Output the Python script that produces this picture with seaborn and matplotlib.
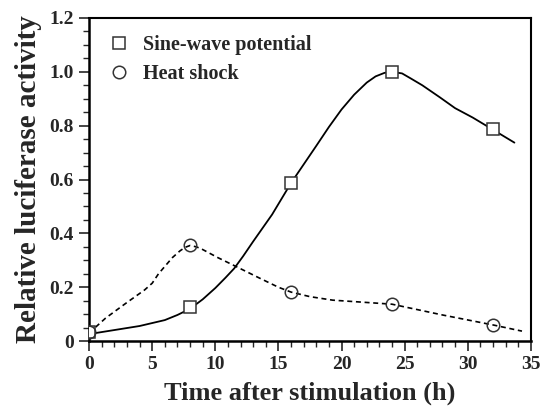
import matplotlib
matplotlib.use("Agg")
import matplotlib.pyplot as plt
import seaborn as sns
from matplotlib.ticker import MultipleLocator, FixedLocator, FixedFormatter

# measured data points
time_pts = [0, 8, 16, 24, 32]
sine_vals = [0.035, 0.125, 0.587, 1.0, 0.787]
heat_vals = [0.035, 0.355, 0.182, 0.137, 0.06]

# fitted curves
sine_curve_t = [0, 2, 4, 6, 7, 8, 9, 10, 10.8, 11.5, 12.2, 13, 14.5, 16, 18, 19, 20,
                21, 22, 22.7, 23.4, 24, 24.8, 25.5, 26.4, 27.8, 29, 30.4, 32, 33.7]
sine_curve_v = [0.026, 0.041, 0.056, 0.078, 0.097, 0.12, 0.155, 0.197, 0.235, 0.27,
                0.315, 0.37, 0.47, 0.587, 0.725, 0.795, 0.86, 0.915, 0.96, 0.983,
                0.996, 1.0, 0.994, 0.975, 0.95, 0.905, 0.865, 0.83, 0.785, 0.737]
heat_curve_t = [0, 1.3, 2.9, 4.4, 5.0, 5.5, 6.6, 7.2, 7.6, 8, 8.5, 9, 10.2, 11.6,
                13.5, 15, 16, 17.5, 19.3, 21.5, 24, 28, 32, 34.3]
heat_curve_v = [0.03, 0.085, 0.14, 0.19, 0.215, 0.25, 0.31, 0.335, 0.348, 0.355,
                0.35, 0.34, 0.31, 0.278, 0.234, 0.2, 0.182, 0.165, 0.152, 0.145,
                0.137, 0.097, 0.06, 0.037]

x_ticks = [0, 5, 10, 15, 20, 25, 30, 35]
y_ticks = [0, 0.2, 0.4, 0.6, 0.8, 1.0, 1.2]
y_tick_labels = ["0", "0.2", "0.4", "0.6", "0.8", "1.0", "1.2"]

sns.set_style("white")
plt.rcParams['font.family'] = ['Liberation Serif', 'DejaVu Serif']
plt.rcParams['font.weight'] = 'bold'

fig = plt.figure(figsize=(5.4, 4.08), dpi=100)
ax = fig.add_axes([0.165, 0.164, 0.818, 0.792])

sns.lineplot(x=sine_curve_t, y=sine_curve_v, ax=ax, color="black", lw=1.3, sort=False)
sns.lineplot(x=heat_curve_t, y=heat_curve_v, ax=ax, color="black", lw=1.2, sort=False)
ax.lines[-1].set_dashes([3, 2.2])

ax.plot(time_pts, sine_vals, ls="none", marker="s", ms=9, mfc="white", mec="#333333",
        mew=1.1, label="Sine-wave potential", zorder=3)
ax.plot(time_pts, heat_vals, ls="none", marker="o", ms=9, mfc="none", mec="#333333",
        mew=1.1, label="Heat shock", zorder=3)

ax.set_xlim(0, 35)
ax.set_ylim(0, 1.2)
ax.xaxis.set_major_locator(FixedLocator(x_ticks))
ax.xaxis.set_minor_locator(MultipleLocator(1))
ax.yaxis.set_major_locator(FixedLocator(y_ticks))
ax.yaxis.set_major_formatter(FixedFormatter(y_tick_labels))
ax.yaxis.set_minor_locator(MultipleLocator(0.05))
ax.tick_params(axis="both", which="major", direction="out", length=7, width=1.2,
               labelsize=14, bottom=True, left=True)
ax.tick_params(axis="x", which="major", pad=4)
ax.tick_params(axis="y", which="major", pad=4)
ax.tick_params(axis="both", which="minor", direction="out", length=4, width=1.0,
               bottom=True, left=True)
for lbl in ax.get_xticklabels() + ax.get_yticklabels():
    lbl.set_fontweight("bold")

for s in ["left", "bottom"]:
    ax.spines[s].set_linewidth(1.8)
for s in ["top", "right"]:
    ax.spines[s].set_linewidth(1.5)
for s in ax.spines.values():
    s.set_color("black")

ax.set_xlabel("Time after stimulation (h)", fontsize=19, fontweight="bold", labelpad=6)
ax.set_ylabel("Relative luciferase activity", fontsize=21, fontweight="bold", labelpad=5)

leg = ax.legend(loc="upper left", frameon=False, fontsize=14.5, handlelength=1.0,
                handletextpad=0.7, borderaxespad=0.3, labelspacing=0.45,
                bbox_to_anchor=(0.012, 0.99))
for t in leg.get_texts():
    t.set_fontweight("bold")

fig.savefig("out.png", dpi=100)
